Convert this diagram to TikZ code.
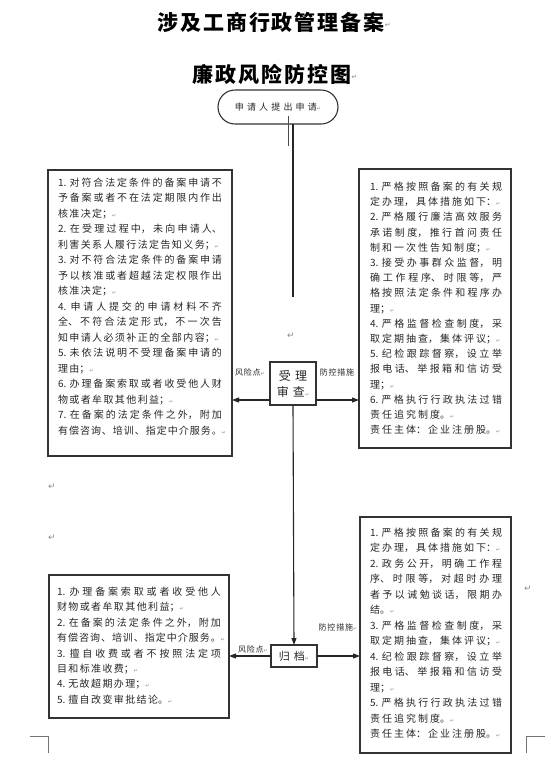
\documentclass[tikz,border=0pt]{standalone}
\usepackage{fontspec}
\usetikzlibrary{arrows.meta}
\newfontfamily\ttlf[LetterSpace=9]{Noto Sans CJK SC}
\newfontfamily\bxf{Noto Sans CJK SC}
\newfontfamily\lbfs[LetterSpace=10]{Noto Sans CJK SC}
\newfontfamily\sqf[LetterSpace=35]{Noto Sans CJK SC}
\newfontfamily\smf[LetterSpace=10]{Noto Sans CJK SC}
\newfontfamily\mkf{DejaVu Sans}
\newcommand\pmk{{\mkf\fontsize{5}{5}\selectfont\color{black!45}↵}}
\newcommand\lskip{\XeTeXlinebreakskip=1.4pt plus 4pt\relax}
\newcommand\rskip{\XeTeXlinebreakskip=2pt plus 4pt\relax}
\XeTeXlinebreaklocale "zh"
\XeTeXlinebreakskip=0pt plus 4pt
\begin{document}
\begin{tikzpicture}[x=1pt,y=-1pt,
  box/.style={draw=black!80,line width=1.1pt,anchor=north west,inner sep=0pt,outer sep=0pt},
  cbox/.style={draw=black!80,line width=1.1pt,inner sep=0pt,outer sep=0pt,text=black!85},
  ltxt/.style={anchor=north west,inner sep=0pt,outer sep=0pt,align=justify,text=black!85},
  lfont/.style={font={\bxf\fontsize{10}{#1}\selectfont\lskip}},
  rfont/.style={font={\bxf\fontsize{10}{#1}\selectfont\rskip}},
  lbl/.style={inner sep=0pt,text=black!85,font=\smf\fontsize{8}{8}\selectfont},
  pmark/.style={inner sep=0pt,text=black!45,font=\mkf\fontsize{9}{9}\selectfont},
  con/.style={draw=black!85,line width=1.1pt},
  arr/.style={con,-{Triangle[length=7pt,width=5pt]}}
]
\useasboundingbox (0,0) rectangle (551,764);

% titles
\node[inner sep=0pt,font=\ttlf\bfseries\fontsize{21}{21}\selectfont] (T1) at (271,22) {涉及工商行政管理备案};
\node[pmark,anchor=west,font=\mkf\fontsize{7}{7}\selectfont] (T1m) at ([yshift=-3pt]T1.east) {↵};
\node[inner sep=0pt,font=\ttlf\bfseries\fontsize{21}{21}\selectfont] (T2) at (272,74) {廉政风险防控图};
\node[pmark,anchor=west,font=\mkf\fontsize{7}{7}\selectfont] (T2m) at ([yshift=-3pt]T2.east) {↵};

% start oval
\node[cbox,rounded corners=17pt,minimum width=120pt,minimum height=34pt,font=\sqf\fontsize{9}{9}\selectfont] (O) at (278,107) {申请人提出申请\pmk};

% boxes
\node[box,minimum width=184pt,minimum height=286pt] (L1) at (48,170) {};
\node[box,minimum width=152pt,minimum height=279pt] (R1) at (359,169) {};
\node[cbox,minimum width=46pt,minimum height=43pt,align=center,font=\sqf\fontsize{12}{16}\selectfont] (S) at (293,383.5) {受理\\审查\pmk};
\node[box,minimum width=180pt,minimum height=143pt] (L2) at (49,575) {};
\node[box,minimum width=151pt,minimum height=236pt] (R2) at (360,517) {};
\node[cbox,minimum width=46pt,minimum height=22pt,font=\sqf\fontsize{11}{11}\selectfont] (G) at (294,656) {归档\pmk};

% box texts
\node[ltxt,text width=164pt,lfont=15.5] (L1t) at (58,178) {%
1. 对符合法定条件的备案申请不\break 予备案或者不在法定期限内作出\break 核准决定；\pmk\par
2. 在受理过程中，未向申请人、\break 利害关系人履行法定告知义务；\pmk\par
3. 对不符合法定条件的备案申请\break 予以核准或者超越法定权限作出\break 核准决定；\pmk\par
4. 申请人提交的申请材料不齐\break 全、不符合法定形式，不一次告\break 知申请人必须补正的全部内容；\pmk\par
5. 未依法说明不受理备案申请的\break 理由；\pmk\par
6. 办理备案索取或者收受他人财\break 物或者牟取其他利益；\pmk\par
7. 在备案的法定条件之外，附加\break \mbox{\lbfs 有偿咨询、培训、指定中介服务。\pmk}\par};

\node[ltxt,text width=132pt,rfont=15.2] (R1t) at (370,182) {%
1. 严格按照备案的有关规\break 定办理，具体措施如下：\pmk\par
2. 严格履行廉洁高效服务\break 承诺制度，推行首问责任\break 制和一次性告知制度；\pmk\par
3. 接受办事群众监督，明\break 确工作程序、时限等，严\break 格按照法定条件和程序办\break 理；\pmk\par
4. 严格监督检查制度，采\break 取定期抽查，集体评议；\pmk\par
5. 纪检跟踪督察，设立举\break 报电话、举报箱和信访受\break 理；\pmk\par
6. 严格执行行政执法过错\break 责任追究制度。\pmk\par
责任主体：企业注册股。\pmk\par};

\node[ltxt,text width=164pt,lfont=15.4] (L2t) at (57,587) {%
1. 办理备案索取或者收受他人\break 财物或者牟取其他利益；\pmk\par
2. 在备案的法定条件之外，附加\break \mbox{\lbfs 有偿咨询、培训、指定中介服务。\pmk}\par
3. 擅自收费或者不按照法定项\break 目和标准收费；\pmk\par
4. 无故超期办理；\pmk\par
5. 擅自改变审批结论。\pmk\par};

\node[ltxt,text width=132pt,rfont=15.5] (R2t) at (370,528) {%
1. 严格按照备案的有关规\break 定办理，具体措施如下：\pmk\par
2. 政务公开，明确工作程\break 序、时限等，对超时办理\break 者予以诫勉谈话，限期办\break 结。\pmk\par
3. 严格监督检查制度，采\break 取定期抽查，集体评议；\pmk\par
4. 纪检跟踪督察，设立举\break 报电话、举报箱和信访受\break 理；\pmk\par
5. 严格执行行政执法过错\break 责任追究制度。\pmk\par
责任主体：企业注册股。\pmk\par};

% labels
\node[lbl] (r1) at (250,372) {风险点\pmk};
\node[lbl] (p1) at (337,372) {防控措施};
\node[lbl] (r2) at (253,649) {风险点\pmk};
\node[lbl] (p2) at (338,627) {防控措施\pmk};

% empty paragraph marks
\node[pmark] (m1) at (291,336) {↵};
\node[pmark] (m2) at (52,487) {↵};
\node[pmark] (m3) at (52,538) {↵};
\node[pmark] (m4) at (528,589) {↵};

% connectors
\coordinate (E1) at (293,297);
\draw[con] (O.south -| S.north) -- (E1);
\coordinate (D0) at (288,116);
\coordinate (D1) at (288,146);
\draw[draw=black!70,line width=0.8pt] (D0) -- (D1);
\draw[arr] (S.south) -- (G.north);
\coordinate (sl) at ([yshift=-16.5pt]S.west);
\coordinate (sr) at ([yshift=-16.5pt]S.east);
\draw[arr] (sl) -- (sl -| L1.east);
\draw[arr] (sr) -- (sr -| R1.west);
\draw[arr] (G.west) -- (G.west -| L2.east);
\draw[arr] (G.east) -- (G.east -| R2.west);

% page corner marks
\draw[black!55,line width=0.8pt] (30,736) -- (48,736) -- (48,753);
\draw[black!55,line width=0.8pt] (545,736) -- (526,736) -- (526,753);
\end{tikzpicture}
\end{document}
